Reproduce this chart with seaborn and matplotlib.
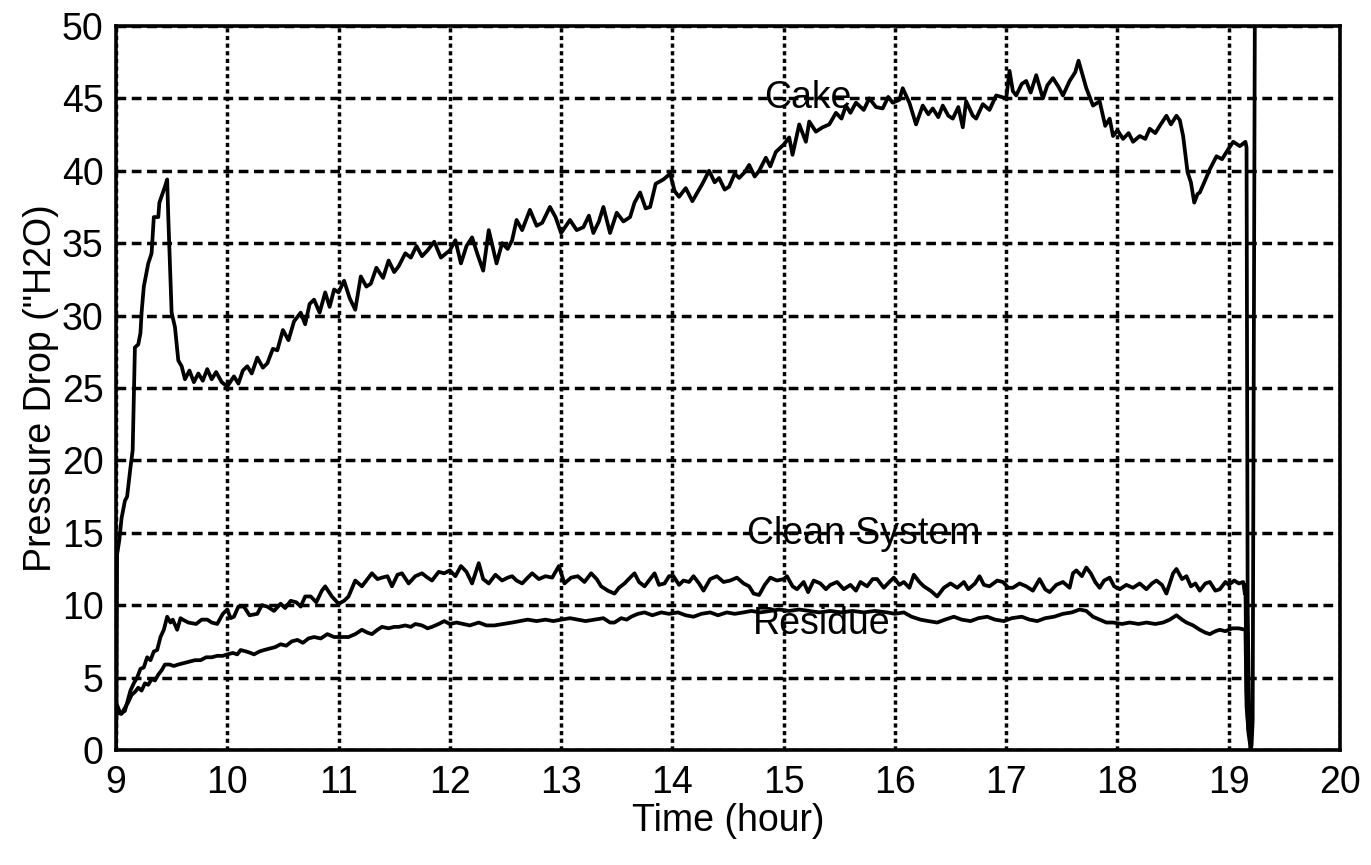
import numpy as np
import pandas as pd
import matplotlib
matplotlib.use("Agg")
import matplotlib.pyplot as plt
import seaborn as sns

# Pressure drop readings ("H2O) against time of day (hours)
cake_t = [9.00, 9.005, 9.01, 9.03, 9.05, 9.08, 9.10, 9.13, 9.15, 9.17, 9.20, 9.22, 9.23,
          9.25, 9.29, 9.32, 9.34, 9.38, 9.39, 9.44, 9.46, 9.47, 9.50, 9.53, 9.56, 9.59,
          9.62, 9.66, 9.70, 9.74, 9.78, 9.82, 9.86, 9.90, 9.95, 10.00, 10.06, 10.10, 10.14,
          10.18, 10.22, 10.27, 10.32, 10.36, 10.41, 10.45, 10.50, 10.55, 10.60, 10.66,
          10.70, 10.74, 10.78, 10.83, 10.88, 10.92, 10.96, 11.00, 11.05, 11.10, 11.15,
          11.20, 11.25, 11.29, 11.34, 11.40, 11.45, 11.50, 11.54, 11.60, 11.65, 11.70,
          11.75, 11.80, 11.86, 11.92, 12.00, 12.05, 12.10, 12.15, 12.20, 12.25, 12.30,
          12.35, 12.42, 12.47, 12.52, 12.56, 12.60, 12.65, 12.72, 12.78, 12.83, 12.90,
          12.95, 13.00, 13.08, 13.14, 13.20, 13.25, 13.29, 13.34, 13.38, 13.44, 13.50,
          13.56, 13.62, 13.66, 13.71, 13.76, 13.80, 13.85, 13.92, 13.98, 14.02, 14.06,
          14.12, 14.18, 14.27, 14.33, 14.38, 14.42, 14.47, 14.51, 14.56, 14.60, 14.65,
          14.69, 14.74, 14.78, 14.84, 14.88, 14.93, 15.00, 15.05, 15.08, 15.14, 15.20,
          15.23, 15.29, 15.35, 15.41, 15.47, 15.52, 15.56, 15.60, 15.65, 15.72, 15.77,
          15.83, 15.89, 15.94, 15.98, 16.04, 16.07, 16.13, 16.19, 16.25, 16.30, 16.34,
          16.39, 16.43, 16.48, 16.52, 16.57, 16.61, 16.64, 16.70, 16.73, 16.79, 16.85,
          16.91, 17.00, 17.03, 17.06, 17.09, 17.14, 17.18, 17.22, 17.27, 17.33, 17.37,
          17.42, 17.47, 17.51, 17.57, 17.62, 17.65, 17.69, 17.72, 17.78, 17.84, 17.89,
          17.93, 17.96, 18.00, 18.05, 18.10, 18.14, 18.20, 18.25, 18.29, 18.34, 18.38,
          18.44, 18.48, 18.53, 18.56, 18.59, 18.63, 18.66, 18.69, 18.72, 18.74, 18.78,
          18.83, 18.89, 18.94, 18.98, 19.04, 19.10, 19.15, 19.16, 19.17, 19.185, 19.195,
          19.205, 19.215, 19.235]
cake_p = [0.0, 3.0, 13.5, 14.5, 16.0, 17.2, 17.5, 19.5, 20.7, 27.8, 28.0, 28.8, 30.2,
          32.0, 33.6, 34.3, 36.8, 36.8, 37.8, 38.9, 39.4, 36.8, 30.2, 29.2, 26.9, 26.5,
          25.6, 26.2, 25.4, 26.0, 25.5, 26.3, 25.6, 26.1, 25.4, 25.1, 25.8, 25.3, 26.2,
          26.5, 26.0, 27.1, 26.4, 26.7, 27.7, 27.6, 29.0, 28.3, 29.6, 30.2,
          29.4, 30.8, 31.1, 30.2, 31.6, 30.6, 31.8, 31.6, 32.4, 31.2, 30.4,
          32.7, 32.0, 32.2, 33.3, 32.6, 33.8, 33.0, 33.4, 34.3, 34.0, 34.8,
          34.1, 34.5, 35.1, 34.0, 34.5, 35.2, 33.6, 34.8, 35.4, 34.2, 33.1,
          35.9, 33.6, 35.0, 34.6, 35.2, 36.6, 35.9, 37.3, 36.2, 36.4, 37.5,
          36.8, 35.7, 36.6, 35.9, 36.1, 36.9, 35.7, 36.5, 37.5, 35.7, 37.1,
          36.5, 36.8, 37.8, 38.5, 37.4, 37.5, 39.1, 39.4, 39.8, 38.6, 38.2,
          38.8, 37.9, 39.1, 40.0, 39.2, 39.5, 38.7, 38.9, 39.8, 39.5, 39.9,
          40.4, 39.6, 40.0, 40.9, 40.3, 41.3, 41.8, 42.3, 41.1, 43.2, 42.0,
          43.4, 42.7, 43.0, 43.2, 44.0, 43.6, 44.5, 44.0, 44.7, 44.2, 45.0,
          44.4, 44.3, 45.1, 44.7, 44.9, 45.7, 44.7, 43.2, 44.5, 43.9, 44.3,
          43.7, 44.5, 43.8, 43.6, 44.4, 43.0, 44.8, 43.8, 43.6, 44.6, 44.2,
          45.2, 45.0, 46.9, 45.5, 45.2, 46.0, 46.2, 45.4, 46.6, 45.0, 45.9,
          46.4, 45.8, 45.2, 46.2, 46.8, 47.6, 46.5, 45.7, 44.5, 44.8, 43.1,
          43.6, 42.4, 42.8, 42.2, 42.6, 42.0, 42.4, 42.2, 42.9, 42.6, 43.1,
          43.8, 43.2, 43.8, 43.5, 42.4, 39.9, 39.2, 37.8, 38.4, 38.5, 39.2,
          40.1, 41.0, 40.8, 41.3, 42.0, 41.7, 42.0, 41.6, 10.0, 1.0, 0.0,
          0.3, 2.0, 52.0]

clean_t = [9.00, 9.01, 9.04, 9.08, 9.13, 9.16, 9.19, 9.22, 9.25, 9.28, 9.31, 9.34, 9.37,
           9.40, 9.43, 9.46, 9.49, 9.51, 9.55, 9.58, 9.60, 9.65, 9.72, 9.77, 9.82, 9.86,
           9.91, 9.96, 10.00, 10.03, 10.06, 10.10, 10.15, 10.20, 10.27, 10.31, 10.36,
           10.42, 10.48, 10.52, 10.57, 10.62, 10.66, 10.70, 10.75, 10.80, 10.85, 10.88,
           10.94, 11.00, 11.05, 11.09, 11.15, 11.21, 11.26, 11.30, 11.35, 11.39, 11.44,
           11.48, 11.53, 11.57, 11.63, 11.69, 11.75, 11.80, 11.84, 11.90, 11.95, 12.00,
           12.05, 12.10, 12.15, 12.20, 12.26, 12.30, 12.35, 12.41, 12.47, 12.52, 12.56,
           12.60, 12.65, 12.70, 12.74, 12.80, 12.86, 12.92, 12.98, 13.03, 13.09, 13.15,
           13.21, 13.27, 13.32, 13.36, 13.42, 13.48, 13.52, 13.57, 13.62, 13.66, 13.70,
           13.75, 13.80, 13.84, 13.88, 13.93, 13.97, 14.01, 14.06, 14.10, 14.15, 14.19,
           14.24, 14.28, 14.34, 14.40, 14.46, 14.52, 14.58, 14.64, 14.69, 14.73, 14.78,
           14.83, 14.88, 14.94, 15.00, 15.03, 15.08, 15.12, 15.18, 15.22, 15.27, 15.33,
           15.38, 15.42, 15.48, 15.54, 15.60, 15.65, 15.69, 15.75, 15.80, 15.84, 15.90,
           15.95, 15.99, 16.04, 16.08, 16.13, 16.17, 16.22, 16.26, 16.32, 16.38, 16.44,
           16.50, 16.56, 16.62, 16.66, 16.72, 16.76, 16.80, 16.85, 16.92, 16.97, 17.02,
           17.06, 17.12, 17.18, 17.24, 17.30, 17.35, 17.39, 17.45, 17.51, 17.57, 17.60,
           17.63, 17.68, 17.72, 17.76, 17.80, 17.84, 17.88, 17.93, 17.97, 18.02, 18.08,
           18.14, 18.20, 18.26, 18.31, 18.35, 18.40, 18.44, 18.50, 18.53, 18.58, 18.62,
           18.66, 18.70, 18.74, 18.79, 18.83, 18.88, 18.92, 18.97, 19.00, 19.05, 19.09,
           19.13, 19.145, 19.15, 19.16, 19.175, 19.19]
clean_p = [2.2, 3.1, 2.5, 2.7, 4.1, 4.6, 5.0, 5.6, 5.7, 6.4, 6.2, 6.8, 6.9,
           7.8, 8.3, 9.2, 8.8, 9.0, 8.3, 9.1, 9.0, 8.8, 8.7, 9.0, 9.0, 8.8,
           8.7, 9.4, 9.7, 9.1, 9.2, 9.9, 9.9, 9.3, 9.4, 10.0, 9.9,
           9.6, 10.1, 9.8, 10.3, 10.2, 9.9, 10.6, 10.6, 10.2, 11.0, 11.3,
           10.6, 10.1, 10.3, 10.6, 11.7, 11.3, 11.8, 12.2, 11.8, 11.9, 12.0,
           11.3, 12.1, 12.2, 11.5, 12.0, 12.2, 11.9, 11.7, 12.3, 12.2, 12.4,
           12.0, 12.7, 12.3, 11.5, 12.9, 11.8, 11.5, 12.1, 11.7, 11.9, 12.0,
           11.7, 11.5, 11.9, 12.2, 11.8, 12.0, 11.9, 12.7, 11.5, 11.9, 12.0,
           11.6, 12.2, 11.8, 11.3, 11.0, 10.8, 11.2, 11.5, 11.9, 12.2, 11.6,
           11.3, 11.8, 12.2, 11.4, 11.5, 12.0, 12.0, 11.4, 11.7, 11.6, 12.0,
           11.5, 11.0, 11.8, 12.0, 11.6, 11.7, 11.9, 11.5, 11.3, 10.8, 10.7,
           11.4, 11.9, 11.7, 11.8, 12.0, 11.3, 11.1, 11.6, 10.9, 11.7, 11.5,
           11.1, 11.4, 11.6, 11.1, 11.4, 11.0, 11.6, 11.3, 11.8, 11.8, 11.2,
           11.6, 11.9, 11.4, 11.6, 11.2, 12.1, 11.6, 11.3, 11.0, 10.6, 11.2,
           11.5, 11.2, 11.6, 11.1, 11.5, 12.0, 11.4, 11.3, 11.7, 11.6, 11.2,
           11.2, 11.5, 11.3, 11.0, 11.8, 11.1, 10.9, 11.4, 11.6, 11.2, 12.2,
           12.4, 12.0, 12.6, 12.2, 11.6, 11.2, 11.7, 11.9, 11.3, 11.1, 11.4,
           11.2, 11.5, 11.1, 11.5, 11.7, 11.4, 10.8, 12.2, 12.5, 11.8, 12.0,
           11.3, 11.5, 11.0, 11.5, 11.6, 11.0, 11.1, 11.6, 11.4, 11.7, 11.5,
           11.6, 10.8, 11.4, 4.0, 1.5, 0.5]

residue_t = [9.00, 9.02, 9.05, 9.08, 9.11, 9.14, 9.17, 9.20, 9.23, 9.26, 9.29, 9.32, 9.35,
             9.38, 9.41, 9.44, 9.48, 9.52, 9.56, 9.61, 9.66, 9.71, 9.76, 9.81, 9.86, 9.91,
             9.96, 10.00, 10.05, 10.09, 10.12, 10.17, 10.21, 10.24, 10.29, 10.33, 10.38,
             10.43, 10.48, 10.53, 10.58, 10.63, 10.68, 10.73, 10.78, 10.84, 10.90, 10.96,
             11.02, 11.09, 11.15, 11.21, 11.26, 11.30, 11.35, 11.39, 11.45, 11.50, 11.54,
             11.60, 11.65, 11.69, 11.75, 11.80, 11.84, 11.90, 11.95, 12.00, 12.06, 12.12,
             12.18, 12.26, 12.33, 12.40, 12.48, 12.56, 12.63, 12.70, 12.78, 12.86, 12.93,
             13.00, 13.08, 13.15, 13.22, 13.30, 13.38, 13.44, 13.48, 13.54, 13.59, 13.63,
             13.69, 13.75, 13.82, 13.90, 13.97, 14.05, 14.12, 14.19, 14.26, 14.34, 14.41,
             14.49, 14.56, 14.64, 14.71, 14.79, 14.88, 14.96, 15.05, 15.14, 15.23, 15.32,
             15.42, 15.52, 15.62, 15.72, 15.82, 15.93, 16.00, 16.08, 16.15, 16.23, 16.30,
             16.38, 16.45, 16.53, 16.60, 16.68, 16.75, 16.83, 16.90, 16.98, 17.05, 17.14,
             17.21, 17.28, 17.35, 17.43, 17.51, 17.59, 17.66, 17.72, 17.78, 17.84, 17.90,
             17.96, 18.04, 18.11, 18.19, 18.26, 18.34, 18.41, 18.47, 18.53, 18.58, 18.62,
             18.68, 18.74, 18.79, 18.83, 18.88, 18.92, 18.97, 19.03, 19.09, 19.15, 19.16,
             19.18]
residue_p = [2.4, 2.6, 2.5, 2.9, 3.3, 3.8, 4.0, 4.3, 4.1, 4.6, 4.5, 4.9, 4.8,
             5.2, 5.5, 5.9, 5.9, 5.8, 5.9, 6.0, 6.1, 6.2, 6.2, 6.4, 6.4, 6.5,
             6.5, 6.6, 6.7, 6.6, 6.9, 6.8, 6.7, 6.6, 6.8, 6.9, 7.0,
             7.1, 7.3, 7.2, 7.5, 7.6, 7.4, 7.7, 7.8, 7.7, 8.0, 7.8,
             7.8, 7.8, 8.0, 8.3, 8.1, 8.0, 8.3, 8.5, 8.4, 8.5, 8.5,
             8.6, 8.5, 8.7, 8.6, 8.4, 8.5, 8.7, 8.9, 8.7, 8.8, 8.7,
             8.6, 8.8, 8.6, 8.6, 8.7, 8.8, 8.9, 9.0, 8.9, 9.0, 8.9,
             9.0, 9.1, 9.0, 8.9, 9.0, 9.1, 8.8, 8.8, 9.1, 9.0, 9.2,
             9.4, 9.5, 9.3, 9.5, 9.4, 9.5, 9.3, 9.2, 9.4, 9.5, 9.3,
             9.5, 9.4, 9.5, 9.6, 9.5, 9.6, 9.7, 9.6, 9.7, 9.6, 9.5,
             9.6, 9.5, 9.6, 9.5, 9.6, 9.5, 9.4, 9.5, 9.2, 9.0, 8.9,
             8.8, 9.0, 9.2, 9.0, 8.9, 9.1, 9.2, 9.0, 8.9, 9.1, 9.2,
             9.0, 8.9, 9.1, 9.2, 9.4, 9.5, 9.7, 9.6, 9.2, 9.0, 8.8,
             8.8, 8.7, 8.8, 8.7, 8.8, 8.7, 8.8, 9.0, 9.3, 9.0, 8.8,
             8.6, 8.3, 8.1, 8.0, 8.2, 8.3, 8.2, 8.4, 8.4, 8.3, 3.0,
             1.0]

x_ticks = list(range(9, 21))
y_ticks = list(range(0, 51, 5))

# Curve names written next to each trace: (text, time, pressure)
curve_labels = [("Cake", 15.22, 45.0),
                ("Clean System", 15.72, 14.9),
                ("Residue", 15.34, 8.7)]

sns.set_style("white")
plt.rcParams["font.family"] = ["Liberation Sans", "DejaVu Sans"]
plt.rcParams["text.color"] = "black"
plt.rcParams["axes.labelcolor"] = "black"

fig = plt.figure(figsize=(13.71, 8.65), dpi=100)
ax = fig.add_axes([0.0846, 0.133, 0.8928, 0.837])

for t, p in [(cake_t, cake_p), (clean_t, clean_p), (residue_t, residue_p)]:
    df = pd.DataFrame({"t": t, "p": p})
    sns.lineplot(data=df, x="t", y="p", ax=ax, color="black", linewidth=2.7,
                 estimator=None, sort=False, legend=False)

ax.set_xlim(9, 20)
ax.set_ylim(0, 50)
ax.set_xticks(x_ticks)
ax.set_yticks(y_ticks)

ax.set_axisbelow(True)
ax.xaxis.grid(True, color="black", linewidth=2.5, linestyle=(0, (1.2, 1.0)))
ax.yaxis.grid(True, color="black", linewidth=2.5, linestyle=(0, (2.8, 1.6)))

for s in ax.spines.values():
    s.set_color("black")
    s.set_linewidth(2.6)

ax.tick_params(axis="both", direction="out", length=7, width=2.2, color="black",
               labelsize=27, labelcolor="black")
ax.tick_params(axis="x", pad=4)
ax.tick_params(axis="y", pad=2)

ax.set_xlabel("Time (hour)", fontsize=27, labelpad=1, color="black")
ax.set_ylabel('Pressure Drop ("H2O)', fontsize=27, labelpad=2, color="black")

for txt, tx, ty in curve_labels:
    ax.text(tx, ty, txt, fontsize=27, ha="center", va="center", color="black")

fig.savefig("out.png", dpi=100, facecolor="white")
